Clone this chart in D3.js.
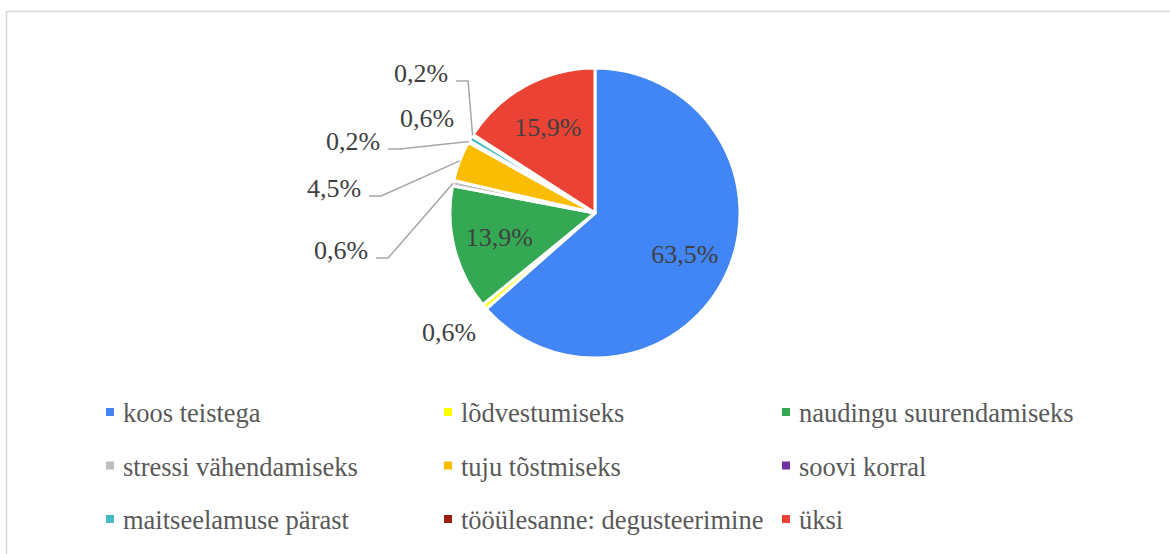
<!DOCTYPE html>
<html>
<head>
<meta charset="utf-8">
<script src="https://cdn.jsdelivr.net/npm/d3@7"></script>
<style>
  html, body { margin: 0; padding: 0; background: #fff; }
  svg { display: block; }
  svg text { font-family: 'Liberation Serif', 'Times New Roman', Times, 'DejaVu Serif', serif; }
</style>
</head>
<body>
<div id="chart"></div>
<script>
// Data
var categories = ['koos teistega', 'lõdvestumiseks', 'naudingu suurendamiseks',
    'stressi vähendamiseks', 'tuju tõstmiseks', 'soovi korral',
    'maitseelamuse pärast', 'tööülesanne: degusteerimine', 'üksi'];
var shares = [63.5, 0.6, 13.9, 0.6, 4.5, 0.2, 0.6, 0.2, 15.9];
var labels = ['63,5%', '0,6%', '13,9%', '0,6%', '4,5%', '0,2%', '0,6%', '0,2%', '15,9%'];
var colors = ['#4285F4', '#FFFF00', '#34A853', '#BDBDBD', '#FBBC04', '#7030A0',
    '#46BDC6', '#9C1C12', '#EA4335'];

// Layout
var width = 1170, height = 554;
var cx = 595, cy = 213, radius = 145;
// outer label centres (null = inside the slice), and whether a leader line is drawn
var outerLabels = [null, {x: 449, y: 332, leader: false}, null,
    {x: 341, y: 250, leader: true}, {x: 334, y: 188, leader: true},
    {x: 353, y: 141, leader: true}, {x: 427, y: 118, leader: false},
    {x: 421, y: 73, leader: true}, null];

var svg = d3.select('#chart').append('svg')
    .attr('width', width)
    .attr('height', height);

// chart border
svg.append('rect')
    .attr('x', 6.5).attr('y', 11.5)
    .attr('width', width + 20).attr('height', height + 20)
    .attr('fill', 'none')
    .attr('stroke', '#d9d9d9')
    .attr('stroke-width', 1.5);

var pie = d3.pie().sort(null).value(function(d) { return d; });
var arcs = pie(shares);
var arc = d3.arc().innerRadius(0).outerRadius(radius);

var g = svg.append('g').attr('transform', 'translate(' + cx + ',' + cy + ')');

g.selectAll('path.slice')
    .data(arcs)
    .enter()
    .append('path')
    .attr('class', 'slice')
    .attr('d', arc)
    .attr('fill', function(d, i) { return colors[i]; })
    .attr('stroke', '#fff')
    .attr('stroke-width', 3)
    .attr('stroke-linejoin', 'round');

// inner labels
var innerArc = d3.arc().innerRadius(radius * 0.68).outerRadius(radius * 0.68);
g.selectAll('text.inner')
    .data(arcs.filter(function(d, i) { return !outerLabels[i]; }))
    .enter()
    .append('text')
    .attr('class', 'inner')
    .attr('transform', function(d) { return 'translate(' + innerArc.centroid(d) + ')'; })
    .attr('text-anchor', 'middle')
    .attr('dy', '0.35em')
    .attr('font-size', 26)
    .attr('fill', '#404040')
    .text(function(d) { return labels[d.index]; });

// outer labels + leader lines
var edgeArc = d3.arc().innerRadius(radius).outerRadius(radius);
arcs.forEach(function(d, i) {
    var lp = outerLabels[i];
    if (!lp) return;
    var t = svg.append('text')
        .attr('x', lp.x)
        .attr('y', lp.y)
        .attr('text-anchor', 'middle')
        .attr('dy', '0.35em')
        .attr('font-size', 26)
        .attr('fill', '#404040')
        .text(labels[i]);
    if (lp.leader) {
        var w = t.node().getComputedTextLength();
        var x0 = lp.x + w / 2 + 8, y0 = lp.y + 8;
        var e = edgeArc.centroid(d);
        svg.append('polyline')
            .attr('points', [[x0, y0], [x0 + 12, y0], [cx + e[0], cy + e[1]]].join(' '))
            .attr('fill', 'none')
            .attr('stroke', '#a6a6a6')
            .attr('stroke-width', 1.5);
    }
});

// legend, 3 columns
var legend = svg.append('g').selectAll('g')
    .data(categories)
    .enter()
    .append('g')
    .attr('transform', function(d, i) {
        return 'translate(' + (106 + (i % 3) * 338) + ',' + (422 + Math.floor(i / 3) * 53.5) + ')';
    });
legend.append('rect')
    .attr('x', 0).attr('y', -14)
    .attr('width', 8).attr('height', 8)
    .attr('fill', function(d, i) { return colors[i]; });
legend.append('text')
    .attr('x', 17)
    .attr('font-size', 26.5)
    .attr('fill', '#595959')
    .text(function(d) { return d; });
</script>
</body>
</html>
